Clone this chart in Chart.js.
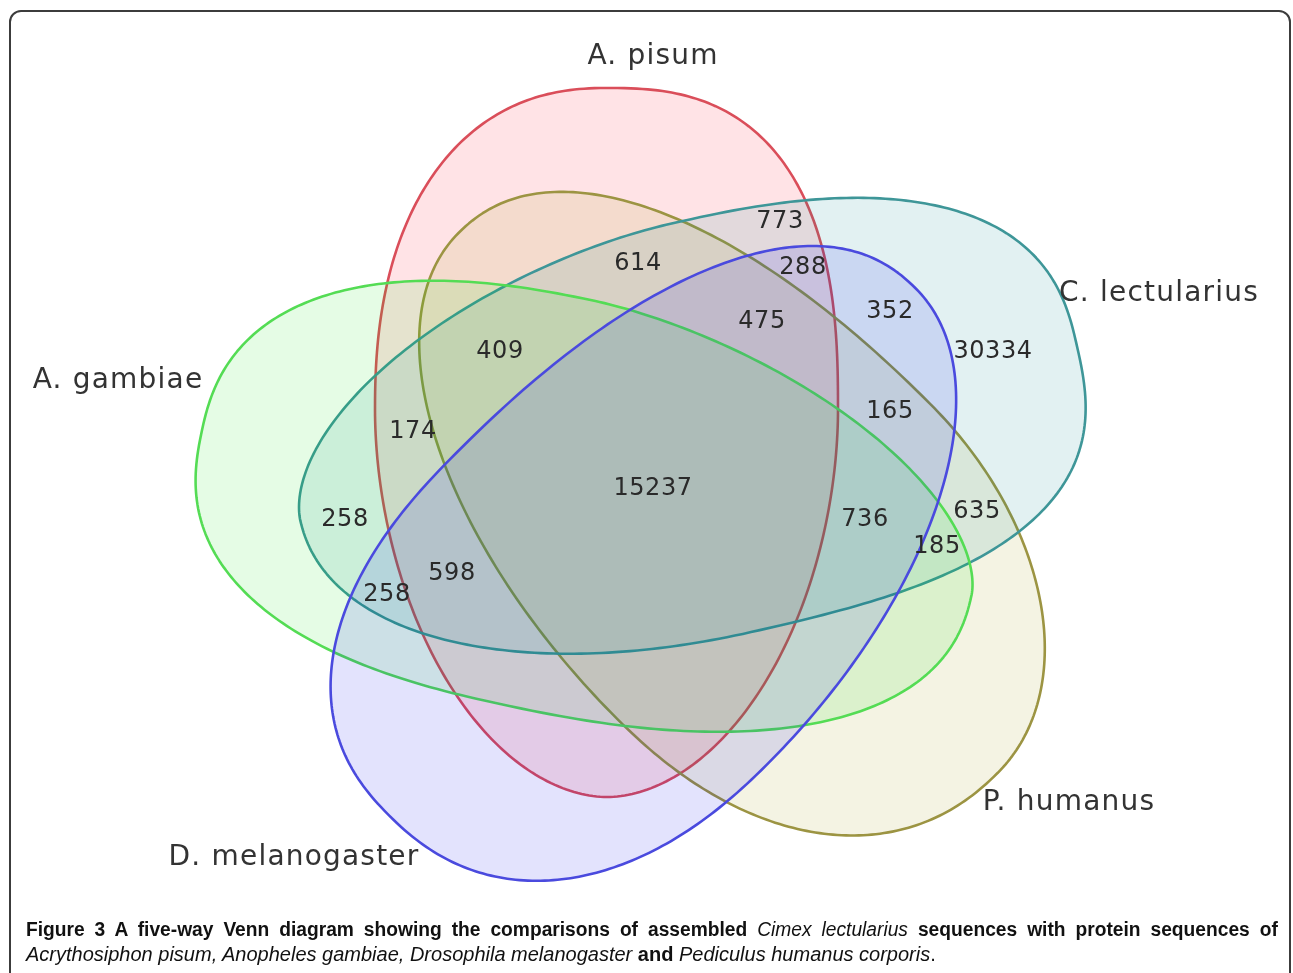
<!DOCTYPE html>
<html>
<head>
<meta charset="utf-8">
<script src="https://cdn.jsdelivr.net/npm/chart.js@4.4.1/dist/chart.umd.min.js"></script>
<style>
  html, body { margin: 0; padding: 0; background: #fff; }
  #wrap { position: relative; width: 1293px; height: 973px; overflow: hidden; }
  #frame { position: absolute; left: 9px; top: 10px; width: 1282px; height: 1010px; box-sizing: border-box;
           border: 2px solid #3c3c3c; border-radius: 12px; }
  #box { position: absolute; left: 0; top: 0; width: 1293px; height: 973px; }
  #cap { position: absolute; left: 26px; top: 917px; color: #111;
         font-family: 'Liberation Sans', Arial, sans-serif; font-size: 20px; line-height: 25px; }
  #cap .l1 { width: 1304px; transform: scaleX(0.96); transform-origin: 0 0;
             text-align: justify; text-align-last: justify; font-weight: bold; }
  #cap .l2 { width: 1252px; font-weight: bold; }
  #cap i { font-weight: normal; }
</style>
</head>
<body>
<div id="wrap">
  <div id="frame"></div>
  <div id="box"><canvas id="cVenn"></canvas></div>
  <div id="cap">
    <div class="l1">Figure 3 A five-way Venn diagram showing the comparisons of assembled <i>Cimex lectularius</i> sequences with protein sequences of</div>
    <div class="l2"><i>Acrythosiphon pisum, Anopheles gambiae, Drosophila melanogaster</i> and <i>Pediculus humanus corporis</i><span style="font-weight:normal">.</span></div>
  </div>
</div>
<script>
// ---- conjuntos: óvalos (cuatro cuartos de superelipse), en px de la figura ----
const setNames = ['A. pisum', 'P. humanus', 'C. lectularius', 'A. gambiae', 'D. melanogaster'];
const setCx    = [607, 780, 712.5, 552, 603.5];
const setCy    = [410, 555, 425.5, 505.5, 601.3];
const setRot   = [0, 45, -13, 12, -45];
const setAPos  = [231, 308, 373, 429, 442];   // semieje a lo largo de +u
const setANeg  = [232, 455, 423, 358, 303];   // semieje hacia -u
const setBPos  = [387, 231, 210, 205, 231];   // semieje hacia +w
const setBNeg  = [322, 213, 206, 209, 209];   // semieje hacia -w
const setExp   = [[1.9, 1.9, 2.3, 2.6], [2.2, 2.0, 2.2, 2.0], [2.8, 2.1, 1.8, 2.5], [2.3, 2.5, 2.4, 1.75], [2.0, 2.25, 2.35, 2.25]];
const nameX = [653, 1069, 1159, 118, 294];
const nameY = [57, 803, 294, 381, 858];

// ---- recuentos por región ----
const counts = [773, 614, 288, 475, 352, 30334, 409, 174, 165, 15237, 258, 736, 635, 185, 598, 258];
const countX = [780, 638, 803, 762, 890, 993, 500, 413, 890, 653, 345, 865, 977, 937, 452, 387];
const countY = [222, 264, 268, 322, 312, 352, 352, 432, 412, 489, 520, 520, 512, 547, 574, 595];

const strokeC = ['rgb(218,78,90)', 'rgb(156,148,66)', 'rgb(62,150,152)', 'rgb(84,220,84)', 'rgb(74,74,222)'];
const fillC   = ['rgba(255,0,30,0.11)', 'rgba(152,144,0,0.11)', 'rgba(0,130,140,0.115)', 'rgba(0,230,0,0.10)', 'rgba(0,0,240,0.11)'];

function ovalPath(ctx, px, py, k, i) {
  const r = setRot[i] * Math.PI / 180, cr = Math.cos(r), sr = Math.sin(r);
  const M = 360;
  ctx.beginPath();
  for (let m = 0; m < M; m++) {
    const f = m / M * 2 * Math.PI, c = Math.cos(f), s = Math.sin(f);
    const q = c >= 0 ? (s >= 0 ? 0 : 3) : (s >= 0 ? 1 : 2);
    const e = 2 / setExp[i][q];
    const u = (c >= 0 ? setAPos[i] : setANeg[i]) * Math.sign(c) * Math.pow(Math.abs(c), e) * k;
    const w = (s >= 0 ? setBPos[i] : setBNeg[i]) * Math.sign(s) * Math.pow(Math.abs(s), e) * k;
    const x = px + u * cr - w * sr, y = py + u * sr + w * cr;
    if (m === 0) ctx.moveTo(x, y); else ctx.lineTo(x, y);
  }
  ctx.closePath();
}

const vennPlugin = {
  id: 'venn',
  beforeDatasetsDraw(chart) {
    const { ctx, scales: { x } } = chart;
    const k = Math.abs(x.getPixelForValue(1) - x.getPixelForValue(0));
    ctx.save();
    ctx.lineJoin = 'round';
    chart.getDatasetMeta(0).data.forEach((pt, i) => {
      ovalPath(ctx, pt.x, pt.y, k, i);
      ctx.fillStyle = fillC[i];
      ctx.fill();
      ctx.lineWidth = 2.6;
      ctx.strokeStyle = strokeC[i];
      ctx.stroke();
    });
    ctx.restore();
  },
  afterDatasetsDraw(chart) {
    const { ctx } = chart;
    ctx.save();
    ctx.textAlign = 'center';
    ctx.textBaseline = 'middle';
    ctx.fillStyle = '#333';
    ctx.font = "28px 'DejaVu Sans'";
    ctx.letterSpacing = '1.2px';
    chart.getDatasetMeta(1).data.forEach((pt, i) => ctx.fillText(setNames[i], pt.x, pt.y));
    ctx.font = "24px 'DejaVu Sans'";
    ctx.letterSpacing = '0.5px';
    ctx.fillStyle = '#2a2a2a';
    chart.getDatasetMeta(2).data.forEach((pt, i) => ctx.fillText(String(counts[i]), pt.x, pt.y));
    ctx.restore();
  }
};

new Chart('cVenn', {
  type: 'scatter',
  data: {
    datasets: [
      { data: setCx.map((v, i) => ({ x: v, y: setCy[i] })), pointRadius: 0 },
      { data: nameX.map((v, i) => ({ x: v, y: nameY[i] })), pointRadius: 0 },
      { data: countX.map((v, i) => ({ x: v, y: countY[i] })), pointRadius: 0 }
    ]
  },
  options: {
    responsive: true, maintainAspectRatio: false, animation: false,
    layout: { padding: 0 },
    plugins: { legend: { display: false }, tooltip: { enabled: false } },
    scales: {
      x: { type: 'linear', min: 0, max: 1293, display: false },
      y: { type: 'linear', min: 0, max: 973, reverse: true, display: false }
    }
  },
  plugins: [vennPlugin]
});
</script>
</body>
</html>
